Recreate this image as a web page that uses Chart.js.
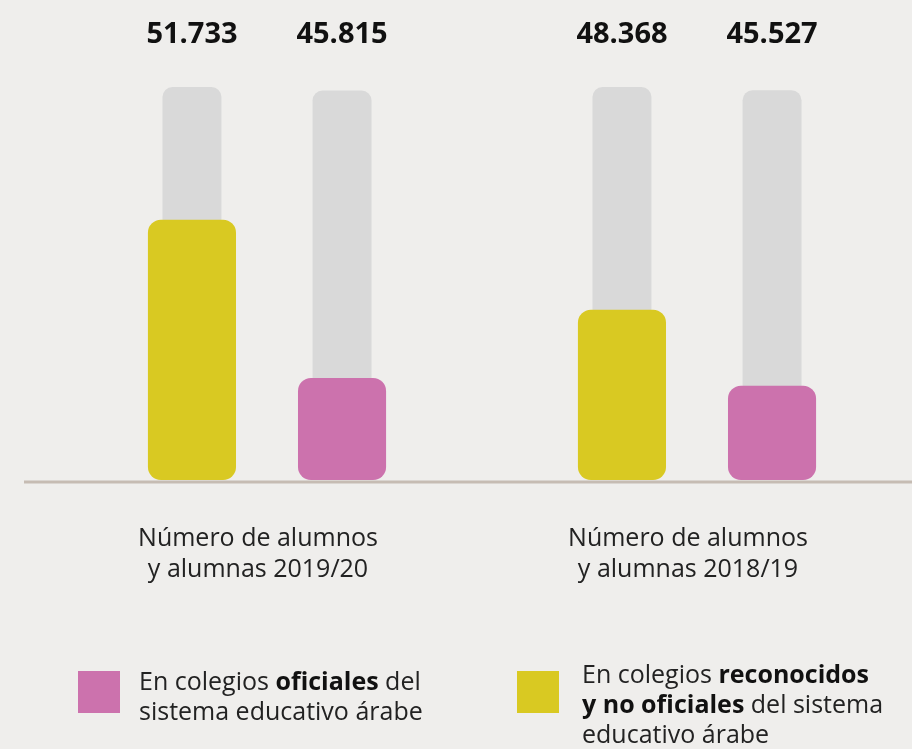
<!DOCTYPE html>
<html lang="es">
<head>
<meta charset="utf-8">
<script src="https://cdn.jsdelivr.net/npm/chart.js@4/dist/chart.umd.min.js"></script>
<style>
    html, body { margin: 0; padding: 0; background: #efeeec; }
    #wrap { position: relative; width: 912px; height: 749px; overflow: hidden; }
    #chart { position: absolute; left: 0; top: 0; }
    .leg { position: absolute; font-family: "Open Sans", sans-serif; font-size: 25px; line-height: 30px; color: #222; white-space: nowrap; }
    .leg b { font-weight: 700; color: #111; }
    .sw { position: absolute; width: 42px; height: 42px; }
</style>
</head>
<body>
<div id="wrap">
    <canvas id="chart" width="912" height="749"></canvas>
    <div class="sw" style="left:78px; top:671px; background:#cc72ad;"></div>
    <div class="leg" style="left:139px; top:665px;">En colegios <b>oficiales</b> del<br>sistema educativo árabe</div>
    <div class="sw" style="left:517px; top:671px; background:#d9c922;"></div>
    <div class="leg" style="left:582px; top:658px;">En colegios <b>reconocidos</b><br><b>y no oficiales</b> del sistema<br>educativo árabe</div>
</div>
<script>
// Datos
const categories = [
    ['Número de alumnos', 'y alumnas 2019/20'],
    ['Número de alumnos', 'y alumnas 2018/19']
];
const reconocidos = [51733, 48368];   // amarillo
const oficiales = [45815, 45527];     // rosa
const fondoReconocidos = [56700, 56700];
const fondoOficiales = [56570, 56580];

const BASE = 42000;   // el eje no empieza en cero
const AMARILLO = '#d9c922';
const ROSA = '#cc72ad';
const GRIS = '#d9d9d9';

// Formato 51.733
function formatear(v) {
    return String(v).replace(/\B(?=(\d{3})+(?!\d))/g, '.');
}

// Valores arriba de cada par
const valoresPlugin = {
    id: 'valores',
    afterDatasetsDraw(chart) {
        const ctx = chart.ctx;
        ctx.save();
        ctx.font = 'bold 29px "Open Sans", sans-serif';
        ctx.fillStyle = '#111';
        ctx.textAlign = 'center';
        ctx.textBaseline = 'alphabetic';
        [0, 1].forEach(di => {
            const meta = chart.getDatasetMeta(di);
            meta.data.forEach((bar, i) => {
                const v = chart.data.datasets[di].data[i];
                ctx.fillText(formatear(v), bar.x, chart.chartArea.top - 36);
            });
        });
        ctx.restore();
    }
};

// Línea base
const baseLinePlugin = {
    id: 'baseLine',
    beforeDatasetsDraw(chart) {
        const ctx = chart.ctx;
        const y = chart.scales.y.getPixelForValue(BASE);
        ctx.save();
        ctx.strokeStyle = '#c6bcb3';
        ctx.lineWidth = 3;
        ctx.beginPath();
        ctx.moveTo(24, y + 2);
        ctx.lineTo(chart.width, y + 2);
        ctx.stroke();
        ctx.restore();
    }
};

const radio = r => ({ topLeft: r, topRight: r, bottomLeft: r, bottomRight: r });

const ctx = document.getElementById('chart').getContext('2d');
new Chart(ctx, {
    type: 'bar',
    data: {
        labels: categories,
        datasets: [
            {
                label: 'Reconocidos y no oficiales',
                data: reconocidos,
                backgroundColor: AMARILLO,
                stack: 'a',
                base: BASE,
                barPercentage: 0.587,
                borderRadius: radio(13),
                borderSkipped: false
            },
            {
                label: 'Oficiales',
                data: oficiales,
                backgroundColor: ROSA,
                stack: 'b',
                base: BASE,
                barPercentage: 0.587,
                borderRadius: radio(13),
                borderSkipped: false
            },
            {
                label: 'fondo a',
                data: fondoReconocidos,
                backgroundColor: GRIS,
                stack: 'a',
                base: BASE + 2000,
                barPercentage: 0.393,
                borderRadius: radio(10),
                borderSkipped: false
            },
            {
                label: 'fondo b',
                data: fondoOficiales,
                backgroundColor: GRIS,
                stack: 'b',
                base: BASE + 2000,
                barPercentage: 0.393,
                borderRadius: radio(10),
                borderSkipped: false
            }
        ]
    },
    options: {
        responsive: false,
        animation: false,
        categoryPercentage: 0.698,
        layout: { padding: { left: 52, right: 0, top: 79, bottom: 0 } },
        plugins: {
            legend: { display: false },
            tooltip: { enabled: false }
        },
        scales: {
            x: {
                grid: { display: false, drawTicks: false },
                border: { display: false },
                ticks: {
                    color: '#222',
                    font: { family: '"Open Sans", sans-serif', size: 25, lineHeight: 1.24 },
                    padding: 43,
                    labelOffset: -9,
                    maxRotation: 0
                },
                afterFit(axis) { axis.height = 269; }
            },
            y: {
                display: false,
                stacked: false,
                min: BASE,
                max: 57000
            }
        }
    },
    plugins: [valoresPlugin, baseLinePlugin]
});
</script>
</body>
</html>
